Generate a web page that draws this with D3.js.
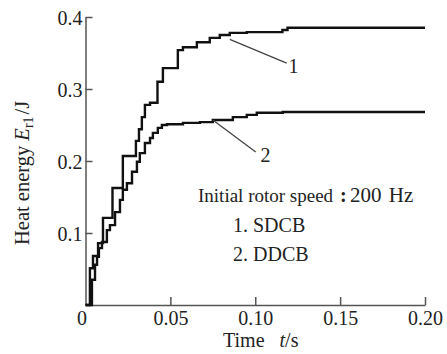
<!DOCTYPE html>
<html lang="en">
<head>
<meta charset="utf-8"/>
<title>Heat energy</title>
<script src="https://cdnjs.cloudflare.com/ajax/libs/d3/7.8.5/d3.min.js"></script>
<style type="text/css">
  body { margin: 0; background: #fff; }
  svg { display: block; }
  text { font-family: "Liberation Serif", "Times New Roman", Times, serif; fill: #222; }
  .axis path, .axis line { stroke: #555; stroke-width: 1.5; }
</style>
</head>
<body>
<div id="chart"></div>
<script>
// curve 1 : SDCB (step data, value holds from t until next t)
var timeSdcb   = [0, 0.0026, 0.0044, 0.0074, 0.0103, 0.0159, 0.022, 0.0297, 0.0315, 0.0332, 0.035, 0.038, 0.0424, 0.0456, 0.0544, 0.0574, 0.0656, 0.0732, 0.0791, 0.085, 0.095, 0.116, 0.119, 0.2];
var energySdcb = [0, 0.051, 0.068, 0.086, 0.121, 0.1625, 0.207, 0.228, 0.244, 0.261, 0.278, 0.281, 0.31, 0.329, 0.354, 0.358, 0.365, 0.371, 0.375, 0.378, 0.379, 0.382, 0.385, 0.385];
// curve 2 : DDCB
var timeDdcb   = [0, 0.0038, 0.0056, 0.0068, 0.0079, 0.0097, 0.0126, 0.0144, 0.0174, 0.0203, 0.022, 0.0244, 0.0274, 0.0303, 0.032, 0.035, 0.038, 0.0397, 0.0426, 0.045, 0.048, 0.0574, 0.0674, 0.075, 0.0868, 0.095, 0.1009, 0.1162, 0.2];
var energyDdcb = [0, 0.035, 0.056, 0.067, 0.079, 0.0875, 0.104, 0.111, 0.129, 0.146, 0.16, 0.169, 0.185, 0.199, 0.211, 0.225, 0.232, 0.239, 0.246, 0.25, 0.251, 0.253, 0.254, 0.257, 0.261, 0.264, 0.267, 0.268, 0.268];

var xTicks = [0, 0.05, 0.10, 0.15, 0.20];
var xTickLabels = ["0", "0.05", "0.10", "0.15", "0.20"];
var yTicks = [0.1, 0.2, 0.3, 0.4];
var yTickLabels = ["0.1", "0.2", "0.3", "0.4"];

var legendLines = ["1. SDCB", "2. DDCB"];
// leader lines [t1, e1, t2, e2] and curve labels
var leaders = [[0.085, 0.369, 0.1185, 0.336], [0.075, 0.257, 0.1003, 0.2125]];
var leaderLabels = ["1", "2"];
var leaderLabelPos = [[0.1226, 0.332], [0.106, 0.208]];

var W = 447, H = 354;
var x = d3.scaleLinear().domain([0, 0.2]).range([85.5, 425]);
var y = d3.scaleLinear().domain([0, 0.4]).range([305, 17]);

var svg = d3.select("#chart").append("svg").attr("width", W).attr("height", H);

// axes
var gx = svg.append("g").attr("class", "axis").attr("transform", "translate(0,305)")
  .call(d3.axisBottom(x).tickValues(xTicks).tickSize(-8).tickSizeOuter(0)
    .tickFormat(function(d, i){ return xTickLabels[i]; }));
gx.selectAll(".tick text").attr("y", 20).attr("dy", 0).style("font-size", "20px")
  .attr("dx", function(d){ return d === 0 ? -4 : 0; });
gx.selectAll(".tick").filter(function(d){ return d === 0; }).select("line").remove();

var gy = svg.append("g").attr("class", "axis").attr("transform", "translate(85.5,0)")
  .call(d3.axisLeft(y).tickValues(yTicks).tickSize(-7).tickSizeOuter(0)
    .tickFormat(function(d, i){ return yTickLabels[i]; }));
gy.selectAll(".tick text").attr("x", -3).attr("dy", "0.35em").style("font-size", "20px");
svg.selectAll(".axis").attr("font-family", null).attr("font-size", null);

// curves
var line = d3.line().x(function(d){ return x(d[0]); }).y(function(d){ return y(d[1]); })
  .curve(d3.curveStepAfter);
[[timeSdcb, energySdcb], [timeDdcb, energyDdcb]].forEach(function(s){
  svg.append("path")
    .datum(d3.zip(s[0], s[1]))
    .attr("d", line)
    .attr("fill", "none")
    .attr("stroke", "#111")
    .attr("stroke-width", 2.4)
    .attr("stroke-linejoin", "miter");
});

// leader lines + labels
svg.selectAll(".leader").data(leaders).enter().append("line")
  .attr("x1", function(d){ return x(d[0]); }).attr("y1", function(d){ return y(d[1]); })
  .attr("x2", function(d){ return x(d[2]); }).attr("y2", function(d){ return y(d[3]); })
  .attr("stroke", "#444").attr("stroke-width", 1.3);
svg.selectAll(".llabel").data(leaderLabels).enter().append("text")
  .attr("x", function(d, i){ return x(leaderLabelPos[i][0]); })
  .attr("y", function(d, i){ return y(leaderLabelPos[i][1]); })
  .attr("dy", "0.35em").attr("text-anchor", "middle")
  .style("font-size", "20px").text(function(d){ return d; });

// legend text
var title = svg.append("text").attr("x", 198).attr("y", 202).style("font-size", "19px");
title.append("tspan").text("Initial rotor speed");
title.append("tspan").attr("x", 340).style("font-weight", "bold").style("font-size", "20px").text(":");
title.append("tspan").attr("x", 350).style("font-size", "21px").style("word-spacing", "2px").text("200 Hz");
var legendY = [232, 261];
svg.selectAll(".legend").data(legendLines).enter().append("text")
  .attr("x", 233)
  .attr("y", function(d, i){ return legendY[i]; })
  .style("font-size", "20px").text(function(d){ return d; });

// axis titles
var xt = svg.append("text").attr("x", 223).attr("y", 347).style("font-size", "20px");
xt.append("tspan").text("Time\u2002 ");
xt.append("tspan").style("font-style", "italic").text("t");
xt.append("tspan").text("/s");

var yt = svg.append("text").attr("transform", "translate(29,245) rotate(-90)")
  .style("font-size", "20.5px");
yt.append("tspan").text("Heat energy ");
yt.append("tspan").style("font-style", "italic").text("E");
yt.append("tspan").attr("dy", 4).style("font-size", "14px").text("r1");
yt.append("tspan").attr("dy", -4).attr("dx", 2).text("/J");
</script>
</body>
</html>
